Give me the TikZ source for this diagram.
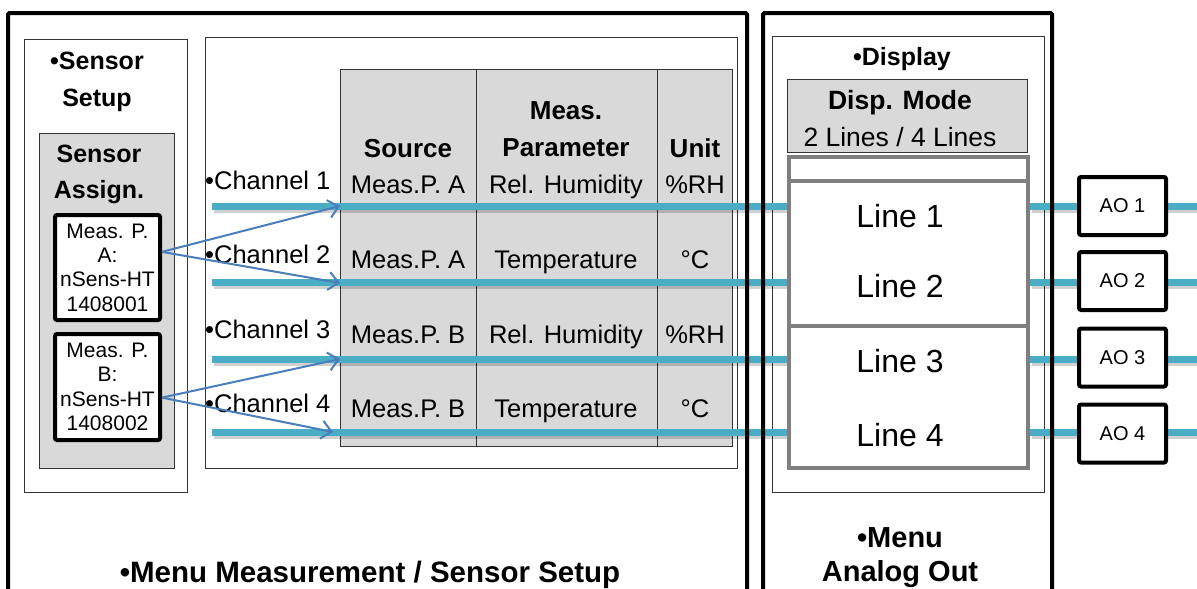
\documentclass[tikz,border=0pt]{standalone}
\usepackage{fontspec}
\setmainfont{Liberation Sans}
\usetikzlibrary{arrows.meta, positioning}
\newcommand{\fs}[2]{\fontsize{#1}{#2}\selectfont}
\definecolor{wirecyan}{HTML}{4BACC6}
\definecolor{linkblue}{HTML}{4A7EBB}
\definecolor{cellgray}{HTML}{D9D9D9}
\definecolor{dispgray}{HTML}{7F7F7F}
\tikzset{
  frame/.style={draw=black, line width=4pt, rounded corners=1.5pt},
  panel/.style={draw=black!80, line width=1pt},
  cell/.style={draw=black!80, line width=1pt, fill=cellgray},
  mpbox/.style={draw=black, line width=4pt, rounded corners=2pt, fill=white,
    minimum width=105pt, minimum height=105pt, align=center, font=\fs{21}{24.3}},
  aobox/.style={draw=black, line width=4pt, rounded corners=2pt, fill=white,
    minimum width=87pt, minimum height=58pt, font=\fs{20}{24}},
  lbl/.style={font=\fs{25.5}{29}},
  bhead/.style={font=\bfseries\fs{26}{37}, align=center},
  linetxt/.style={font=\fs{32}{36}},
  wire/.style={draw=wirecyan, line width=7pt},
  wireshadow/.style={draw=black, opacity=0.18, line width=7pt},
  link/.style={draw=linkblue, line width=2pt, -{Straight Barb[length=10pt,width=18pt]}}
}

\begin{document}
\begin{tikzpicture}[x=1pt, y=-1pt, every node/.style={inner sep=0pt}]
\useasboundingbox (0,0) rectangle (1197,589);
\clip (0,0) rectangle (1197,589);

% panels
\draw[panel] (24,39) rectangle (187,492);
\draw[cell] (39,133) rectangle (174,468);
\draw[panel] (205,37) rectangle (737,468);
\draw[cell] (340,69) rectangle (732,446);
\draw[panel] (476,69) -- (476,446);
\draw[panel] (657,69) -- (657,446);
\draw[panel] (772,36) rectangle (1044,492);
\draw[cell] (787,79) rectangle (1027,152);

% sensor setup
\node[bhead, font=\bfseries\fs{25}{37}] (sset) at (97,82) {•Sensor\\Setup};
\node[bhead, font=\bfseries\fs{25}{36}] (sass) at (99,174) {Sensor\\Assign.};
\node[mpbox] (mpa) at (107.5,267.5) {Meas. P.\\A:\\nSens-HT\\1408001};
\node[mpbox, minimum height=106pt] (mpb) at (107.5,387) {Meas. P.\\B:\\nSens-HT\\1408002};

% channels and table
\foreach \i/\b in {1/189,2/263,3/338,4/412}
  \node[lbl, anchor=base west] (chl\i) at (205,\b) {•Channel \i};
\node[bhead, anchor=base] (hsrc) at (408,157) {Source};
\node[bhead] (hpar) at (566,129) {Meas.\\Parameter};
\node[bhead, anchor=base] (hunit) at (695,157) {Unit};
\foreach \i/\b/\srcname/\qtyname/\unitname in {1/193/Meas.P. A/Rel. Humidity/\%RH,
    2/268/Meas.P. A/Temperature/°C, 3/343/Meas.P. B/Rel. Humidity/\%RH,
    4/417/Meas.P. B/Temperature/°C}{
  \node[lbl, anchor=base] (src\i) at (408,\b) {\srcname};
  \node[lbl, anchor=base] (qty\i) at (566,\b) {\qtyname};
  \node[lbl, anchor=base] (unit\i) at (695,\b) {\unitname};
}

% display
\node[bhead, font=\bfseries\fs{25}{30}, anchor=base] (disp) at (902,65) {•Display};
\node[align=center, font=\fs{26.5}{37}] (dmode) at (900,119) {\textbf{Disp. Mode}\\2 Lines / 4 Lines};
\foreach \i/\b in {1/227,2/297,3/372,4/446}
  \node[linetxt, anchor=base] (line\i) at (900,\b) {Line \i};

% wires
\foreach \i/\y in {1/206,2/282,3/359,4/432}{
  \coordinate (ch\i) at (212,\y);
  \coordinate (ln\i) at (787,\y);
  \coordinate (lo\i) at (1030,\y);
  \coordinate (ed\i) at (1205,\y);
}
\foreach \i/\y in {1/206,2/281,3/357.5,4/433.5}
  \coordinate (aoc\i) at (1122.5,\y);
\foreach \i in {1,...,4}{
  \draw[wireshadow] ([shift={(1.5,3)}]ch\i) -- ([shift={(1.5,3)}]ln\i);
  \draw[wireshadow] ([shift={(1.5,3)}]lo\i) -- ([shift={(1.5,3)}]ed\i);
  \draw[wire] (ch\i) -- (ln\i);
  \draw[wire] (lo\i) -- (ed\i);
}

% display lines
\draw[dispgray, line width=4pt] (789,157) rectangle (1028,468);
\draw[dispgray, line width=4pt] (789,181) -- (1028,181);
\draw[dispgray, line width=4pt] (789,326) -- (1028,326);

% frames
\draw[frame] (8,640) -- (8,13) -- (747,13) -- (747,640);
\draw[frame] (763,640) -- (763,13) -- (1052,13) -- (1052,640);

% analog outputs
\foreach \i in {1,...,4}
  \node[aobox] (ao\i) at (aoc\i) {AO \i};

\node[bhead, font=\bfseries\fs{29.5}{34}, anchor=base] (menums) at (370,582) {•Menu Measurement / Sensor Setup};
\node[bhead, font=\bfseries\fs{29}{34}] (menuao) at (900,557.5) {•Menu\\Analog Out};

% assignments
\coordinate (ta1) at (340,206);
\coordinate (ta2) at (340,283);
\coordinate (tb1) at (340,359);
\coordinate (tb2) at (333,432);
\draw[link] (mpa.16) -- (ta1);
\draw[link] (mpa.16) -- (ta2);
\draw[link] (mpb.-11) -- (tb1);
\draw[link] (mpb.-11) -- (tb2);
\end{tikzpicture}
\end{document}
